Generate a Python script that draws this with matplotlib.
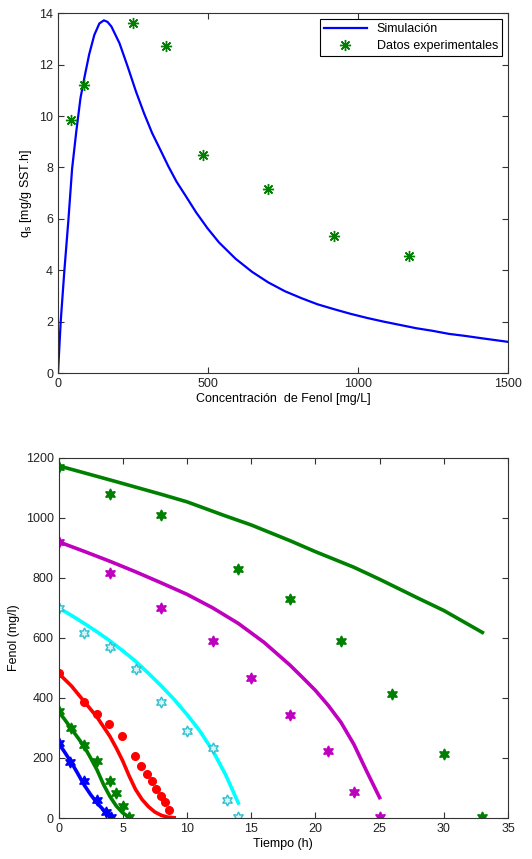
import numpy as np
import matplotlib
matplotlib.use("Agg")
import matplotlib.pyplot as plt

plt.rcParams['font.family'] = ['Liberation Sans', 'DejaVu Sans']
plt.rcParams['font.size'] = 9

# --- upper panel: specific rate vs phenol concentration ---
sim_S = [0, 9, 21, 35, 47, 61, 75, 89, 104, 121, 138, 153, 165, 178, 205, 232,
         260, 287, 314, 341, 368, 395, 428, 460, 498, 537, 592, 647, 701, 756,
         811, 865, 920, 975, 1030, 1084, 1139, 1194, 1248, 1303, 1358, 1412, 1500]
sim_q = [0, 2.0, 3.95, 6.0, 7.95, 9.4, 10.7, 11.55, 12.4, 13.15, 13.6, 13.72,
         13.66, 13.48, 12.83, 11.93, 10.95, 10.1, 9.33, 8.69, 8.04, 7.45, 6.85,
         6.26, 5.64, 5.08, 4.45, 3.94, 3.53, 3.19, 2.92, 2.68, 2.49, 2.31, 2.15,
         2.01, 1.88, 1.75, 1.65, 1.53, 1.45, 1.36, 1.22]
exp_S = [43, 87, 249, 359, 482, 700, 920, 1169]
exp_q = [9.85, 11.21, 13.61, 12.74, 8.48, 7.16, 5.35, 4.54]

# --- lower panel: phenol vs time, one run per initial concentration ---
# simulated curves
t_blue = [0, 0.5, 1, 1.5, 2, 2.5, 3, 3.5, 4, 4.2]
c_blue = [250, 218, 185, 148, 110, 78, 50, 27, 10, 4]
t_g1 = [0, 0.5, 1, 1.5, 2, 2.5, 3, 3.5, 4, 4.5, 5, 5.5]
c_g1 = [355, 327, 297, 268, 238, 200, 160, 112, 72, 40, 17, 3]
t_red = [0, 1, 2, 3, 4, 4.5, 5, 5.5, 6, 6.5, 7, 7.5, 8, 8.5, 9]
c_red = [482, 440, 388, 336, 272, 233, 190, 140, 95, 62, 38, 20, 9, 3, 1]
t_cyan = [0, 1, 2, 3, 4, 5, 6, 7, 8, 9, 10, 11, 12, 13, 14]
c_cyan = [700, 675, 648, 620, 590, 557, 522, 482, 440, 395, 345, 290, 225, 145, 50]
t_mag = [0, 2, 4, 6, 8, 10, 12, 14, 16, 18, 19, 20, 21, 22, 23, 24, 25]
c_mag = [920, 888, 855, 820, 783, 745, 700, 648, 585, 510, 468, 425, 375, 318, 245, 155, 68]
t_g2 = [0, 4, 8, 10, 13, 15, 18, 20, 23, 25, 28, 30, 33]
c_g2 = [1173, 1126, 1078, 1053, 1006, 976, 924, 887, 835, 795, 732, 691, 618]

# measured points
d_t_blue = [0, 0.93, 1.95, 3, 3.68, 4.1]
d_c_blue = [250, 188, 122, 60, 20, 2]
d_t_g1 = [0, 1, 2, 3, 4, 4.5, 5, 5.5]
d_c_g1 = [355, 300, 244, 189, 123, 85, 41, 2]
d_t_red = [0, 1.95, 3, 3.92, 4.97, 5.95, 6.45, 6.9, 7.25, 7.57, 7.95, 8.27, 8.6]
d_c_red = [482, 386, 348, 313, 274, 206, 174, 146, 122, 98, 74, 53, 28]
d_t_cyan = [0, 2, 4, 6, 8, 10, 12, 13.1, 14]
d_c_cyan = [699, 616, 571, 497, 386, 290, 232, 59, 2]
d_t_mag = [0, 4, 8, 12, 15, 18, 21, 23, 25]
d_c_mag = [920, 816, 700, 588, 465, 343, 224, 87, 2]
d_t_g2 = [0, 4, 8, 14, 18, 22, 26, 30, 33]
d_c_g2 = [1170, 1080, 1008, 829, 728, 591, 412, 213, 2]

fig = plt.figure(figsize=(5.32, 8.59), dpi=100)

def style_axes(ax):
    ax.tick_params(direction='in', top=True, right=True, length=4,
                   width=0.8, colors='#333333', labelcolor='#222222', labelsize=9)
    for s in ax.spines.values():
        s.set_color('#333333')
        s.set_linewidth(0.8)
        s.set_zorder(5)

ax1 = fig.add_axes([0.109, 0.5655, 0.846, 0.4192])
ax1.plot(sim_S, sim_q, color='#0000ff', lw=1.6, label='Simulación')
ax1.plot(exp_S, exp_q, linestyle='none', marker=(8, 2, 0), ms=8, mew=1.0,
         color='#008000', label='Datos experimentales')
ax1.set_xlim(0, 1500)
ax1.set_ylim(0, 14)
ax1.set_xticks([0, 500, 1000, 1500])
ax1.set_yticks(np.arange(0, 15, 2))
ax1.set_xlabel('Concentración  de Fenol [mg/L]', fontsize=9, labelpad=2)
ax1.set_ylabel('q$_\\mathregular{s}$ [mg/g SST.h]', fontsize=9, labelpad=4)
style_axes(ax1)
leg = ax1.legend(loc='upper right', fontsize=9, fancybox=False, framealpha=1,
                 edgecolor='black', handlelength=3.4, borderaxespad=0.5,
                 labelspacing=0.4, borderpad=0.3)
leg.get_frame().set_linewidth(0.8)

ax2 = fig.add_axes([0.110, 0.0477, 0.845, 0.4195])
lw = 2.6
ax2.plot(t_blue, c_blue, color='#0000ff', lw=lw)
ax2.plot(t_g1, c_g1, color='#008000', lw=lw)
ax2.plot(t_red, c_red, color='#ff0000', lw=lw)
ax2.plot(t_cyan, c_cyan, color='#00ffff', lw=lw)
ax2.plot(t_mag, c_mag, color='#bf00bf', lw=lw)
ax2.plot(t_g2, c_g2, color='#008000', lw=lw)

star = (6, 1, 0)
ax2.plot(d_t_blue, d_c_blue, linestyle='none', marker=star, ms=8, color='#0000ff')
ax2.plot(d_t_g1, d_c_g1, linestyle='none', marker=star, ms=8, color='#008000')
ax2.plot(d_t_red, d_c_red, linestyle='none', marker='o', ms=5.5, color='#ff0000')
ax2.plot(d_t_cyan, d_c_cyan, linestyle='none', marker=star, ms=8,
         mfc='#d8f6f8', mec='#30c0d0', mew=1.0)
ax2.plot(d_t_mag, d_c_mag, linestyle='none', marker=star, ms=8, color='#bf00bf')
ax2.plot(d_t_g2, d_c_g2, linestyle='none', marker=star, ms=8, color='#008000')

ax2.set_xlim(0, 35)
ax2.set_ylim(0, 1200)
ax2.set_xticks(np.arange(0, 36, 5))
ax2.set_yticks(np.arange(0, 1201, 200))
ax2.set_xlabel('Tiempo (h)', fontsize=9, labelpad=2)
ax2.set_ylabel('Fenol (mg/l)', fontsize=9, labelpad=4)
style_axes(ax2)

fig.savefig('out.png', dpi=100)
